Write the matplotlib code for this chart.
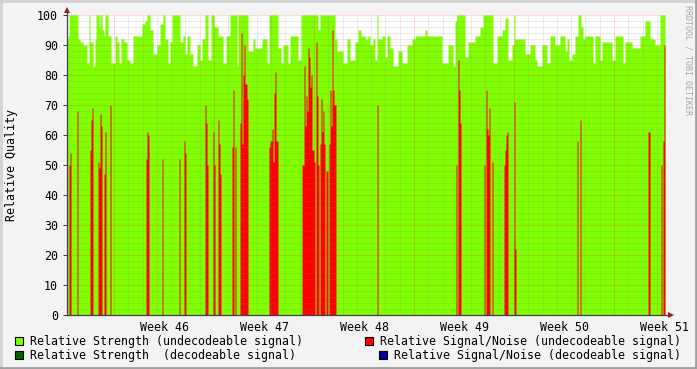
import numpy as np
import matplotlib
matplotlib.use('Agg')
import matplotlib.pyplot as plt
from matplotlib.patches import Rectangle
from matplotlib.lines import Line2D

W, H = 697, 369

# sampling: one value per 1/100 week, first sample at week 45.02
start_week = 45.02
step = 0.01

# relative strength (undecodeable signal), run-length encoded
strength_vals = [
    92, 93, 100, 92, 91, 90, 84, 100, 91, 83, 92, 100, 96, 100, 95, 93, 100, 93, 84, 93,
    91, 84, 92, 91, 85, 84, 93, 97, 98, 100, 95, 87, 90, 97, 100,
    92, 84, 91, 100, 91, 93, 87, 93, 87, 83, 90, 85, 92, 100, 85, 100, 96, 93, 84, 93,
    100, 83, 100, 100, 88, 92, 89, 92,
    92, 84, 100, 89, 84, 90, 84, 93, 85, 100, 95, 100, 92, 88, 84, 92, 85, 91, 95, 93,
    92, 93, 90, 92, 85, 100, 92, 93, 86, 93, 89, 83, 88, 84, 90, 92, 93, 95, 93, 84,
    90, 83, 98, 100,
    86, 91, 93, 96, 100, 84, 93, 95, 99, 85, 90, 100, 92, 87, 90, 85, 83, 90, 84, 93,
    90, 93,
    88, 92, 85, 87, 93, 100, 96, 92, 93, 84, 93, 85, 91, 85, 93, 84, 91, 89, 93, 98,
    92, 90, 100,
]
strength_runs = [
    1, 1, 9, 2, 3, 4, 2, 1, 3, 2, 1, 3, 1, 2, 2, 1, 3, 3, 4, 2,
    2, 2, 3, 3, 3, 3, 9, 3, 2, 3, 3, 4, 3, 3, 2,
    3, 2, 2, 8, 3, 2, 2, 3, 3, 4, 3, 2, 3, 3, 3, 3, 4, 5, 3, 4,
    7, 1, 4, 6, 5, 2, 7, 3,
    2, 2, 9, 3, 2, 5, 2, 8, 3, 17, 2, 15, 2, 6, 4, 3, 5, 3, 3, 4,
    3, 2, 3, 2, 2, 1, 4, 3, 2, 3, 3, 5, 4, 5, 5, 3, 10, 2, 15, 6,
    5, 2, 2, 8,
    3, 7, 5, 3, 10, 4, 5, 3, 3, 4, 2, 1, 10, 5, 5, 2, 5, 5, 3, 5,
    5, 5,
    2, 2, 3, 3, 3, 3, 2, 2, 8, 2, 5, 2, 10, 3, 8, 2, 7, 8, 5, 5,
    5, 5, 5,
]

# relative signal/noise (undecodeable signal): week of sample, value
sn_weeks = [
    45.04, 45.05, 45.12, 45.25, 45.26, 45.27, 45.33, 45.34, 45.35, 45.36, 45.39, 45.40,
    45.45, 45.81, 45.82, 45.83, 45.97,
    46.14, 46.19, 46.20, 46.40, 46.41, 46.42, 46.48, 46.49, 46.53, 46.54, 46.55, 46.67,
    46.68, 46.70, 46.75, 46.76, 46.77, 46.78, 46.79, 46.80, 46.81, 46.82,
    47.04, 47.05, 47.06, 47.07, 47.08, 47.09, 47.10, 47.11, 47.12, 47.37, 47.38, 47.39,
    47.40, 47.41, 47.42, 47.43, 47.44, 47.45, 47.46, 47.47, 47.48, 47.49, 47.51, 47.52,
    47.53, 47.55, 47.56, 47.57, 47.58, 47.59, 47.61, 47.62, 47.64, 47.65, 47.66, 47.67,
    47.68, 47.69, 47.70,
    48.12, 48.91, 48.93, 48.94, 48.95,
    49.19, 49.21, 49.22, 49.23, 49.24, 49.27, 49.39, 49.40, 49.41, 49.42, 49.49, 49.50,
    50.12, 50.15, 50.83, 50.84, 50.96, 50.98, 50.99,
]
sn_vals = [
    50, 54, 68, 55, 65, 69, 51, 49, 67, 63, 47, 61,
    70, 52, 61, 60, 52,
    52, 58, 54, 70, 64, 50, 61, 50, 65, 57, 47, 56,
    75, 56, 64, 94, 57, 80, 90, 77, 77, 72,
    56, 58, 58, 62, 51, 74, 81, 58, 58, 50, 50, 83,
    63, 73, 68, 89, 86, 76, 80, 55, 55, 51, 91, 73,
    50, 57, 72, 61, 68, 57, 48, 48, 57, 75, 63, 95,
    75, 70, 70,
    70, 50, 85, 75, 64,
    50, 75, 62, 60, 69, 51, 50, 55, 60, 61, 71, 22,
    58, 65, 61, 61, 50, 58, 90,
]

week_ticks = [46, 47, 48, 49, 50, 51]
week_labels = ['Week 46', 'Week 47', 'Week 48', 'Week 49', 'Week 50', 'Week 51']
y_ticks = [0, 10, 20, 30, 40, 50, 60, 70, 80, 90, 100]

legend_labels = [
    'Relative Strength (undecodeable signal)',
    'Relative Signal/Noise (undecodeable signal)',
    'Relative Strength  (decodeable signal)',
    'Relative Signal/Noise (decodeable signal)',
]
legend_colors = ['#7fff00', '#ff0000', '#006400', '#000099']

mono = 'DejaVu Sans Mono'
fs = 8.4

fig = plt.figure(figsize=(W / 100, H / 100), dpi=100, facecolor='#f3f3f3')
ax = fig.add_axes([67 / W, 1 - 315 / H, 599 / W, 300 / H])
ax.set_facecolor('white')

strength = np.repeat(strength_vals, strength_runs).astype(float)
t = start_week + step * np.arange(len(strength) + 1)
ax.fill_between(t, np.append(strength, strength[-1]), step='post',
                color='#7fff00', lw=0, antialiased=False, zorder=1)

sn = np.zeros(len(strength))
idx = np.rint((np.array(sn_weeks) - start_week) / step).astype(int)
sn[idx] = sn_vals
ax.fill_between(t, np.append(sn, sn[-1]), step='post',
                color='#ff0000', lw=0, antialiased=False, zorder=2)

ax.set_xlim(start_week, start_week + 5.99)
ax.set_ylim(0, 100)

# grid: minor every 2 units / every day, major every 10 units / every week
for y in range(2, 101, 2):
    major = y % 10 == 0
    ax.axhline(y, color='#ff0000' if major else '#808080', alpha=0.3,
               lw=0.72, dashes=(1, 1), zorder=3)
d = 45.49
k = 0
while d < 51.01:
    if d > start_week:
        major = k % 7 == 0
        ax.axvline(d, color='#ff0000' if major else '#808080', alpha=0.3,
                   lw=0.72, dashes=(1, 1), zorder=3)
    k += 1
    d = 45.49 + k / 7.0

for s in ax.spines.values():
    s.set_visible(False)

ax.set_yticks(y_ticks)
ax.set_yticklabels([str(v) for v in y_ticks], family=mono, fontsize=fs)
ax.tick_params(axis='y', length=3, width=0.72, color='#404040', pad=3.5)
ax.set_xticks(week_ticks)
ax.set_xticklabels(week_labels, family=mono, fontsize=fs)
ax.tick_params(axis='x', length=0, pad=4)


def fx(x):
    return x / W


def fy(y):
    return 1 - y / H


fig.text(fx(12), fy(165), 'Relative Quality', rotation=90, family=mono,
         fontsize=fs, ha='center', va='center')

# axis lines with arrow heads
fig.add_artist(Line2D([fx(67), fx(67)], [fy(315), fy(10)], color='#404050', lw=0.9))
fig.add_artist(Line2D([fx(67), fx(671)], [fy(315), fy(315)], color='#404050', lw=0.9))
fig.add_artist(Line2D([fx(67)], [fy(10)], marker='^', ms=5, color='#902020', mew=0))
fig.add_artist(Line2D([fx(671)], [fy(315)], marker='>', ms=5, color='#902020', mew=0))

# frame
fig.add_artist(Line2D([0, 1], [fy(1), fy(1)], color='#d2d2d2', lw=2))
fig.add_artist(Line2D([fx(1), fx(1)], [0, 1], color='#d2d2d2', lw=2))
fig.add_artist(Line2D([0, 1], [fy(368), fy(368)], color='#a0a0a0', lw=2))
fig.add_artist(Line2D([fx(696), fx(696)], [0, 1], color='#a0a0a0', lw=2))

# watermark
fig.text(fx(688), fy(5), 'RRDTOOL / TOBI OETIKER', rotation=270, family=mono,
         fontsize=6, color='#a8a8a8', ha='center', va='top')

# legend
legend_pos = [(15, 30, 341), (365, 380, 341), (15, 30, 355), (379, 394, 355)]
for (sx, tx, ty), lab, col in zip(legend_pos, legend_labels, legend_colors):
    fig.add_artist(Rectangle((fx(sx), fy(ty + 4)), 8 / W, 8 / H, transform=fig.transFigure,
                             facecolor=col, edgecolor='black', lw=0.8))
    fig.text(fx(tx), fy(ty), lab, family=mono, fontsize=fs, ha='left', va='center')

fig.savefig('out.png', dpi=100, facecolor=fig.get_facecolor())
